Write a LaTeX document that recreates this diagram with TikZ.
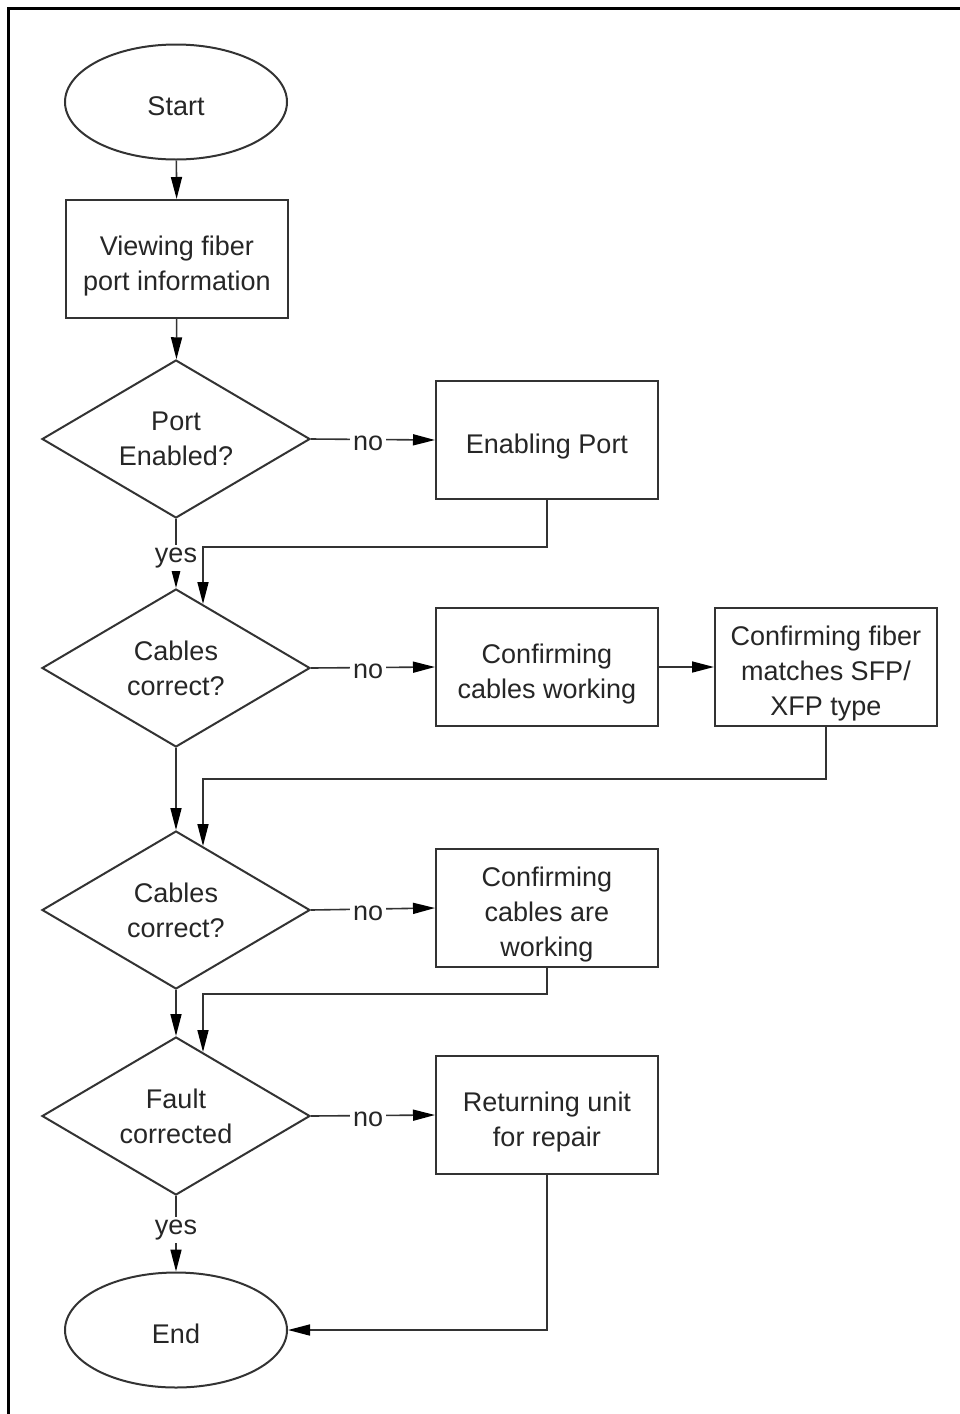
\documentclass[tikz,border=0pt]{standalone}
\usepackage{fontspec}
\setmainfont{Liberation Sans}
\usetikzlibrary{shapes.geometric,arrows.meta,calc}
\begin{document}
\begin{tikzpicture}[x=1pt,y=-1pt,
  every node/.style={font=\fontsize{27}{35}\selectfont, text=black!85},
  term/.style={ellipse, draw=black!80, line width=2pt, minimum width=222pt, minimum height=115pt, inner sep=0pt, execute at begin node={\rule{0pt}{27pt}}},
  proc/.style={rectangle, draw=black!80, line width=2pt, minimum width=222pt, minimum height=118pt, inner sep=0pt,
    label={[align=center, yshift=-7pt]center:#1}},
  dec/.style={diamond, aspect=1.7, draw=black!80, line width=2pt, minimum width=268pt, minimum height=158pt, align=center, inner sep=0pt},
  conn/.style={draw=black!80, line width=1.6pt, -{Triangle[length=22pt,width=11pt,color=black]}},
  lab/.style={fill=white, inner sep=3pt}
]
\useasboundingbox (0,0) rectangle (960,1414);
\fill[white] (0,0) rectangle (960,1414);
\draw[line width=3pt] (8.5,1420) -- (8.5,8) -- (965,8);

\node[term] (start) at (176,102) {Start};
\node[proc={Viewing fiber\\port information}] (view) at (177,259) {};
\node[dec] (d1) at (176,439) {Port\\Enabled?};
\node[proc={Enabling Port}] (en) at (547,440) {};
\node[dec] (d2) at (176,668) {Cables\\correct?};
\node[proc={Confirming\\cables working}] (cw) at (547,667) {};
\node[proc={Confirming fiber\\matches SFP/\\XFP type}] (fib) at (826,667) {};
\node[dec] (d3) at (176,910) {Cables\\correct?};
\node[proc={Confirming\\cables are\\working}] (cae) at (547,908) {};
\node[dec] (d4) at (176,1116) {Fault\\corrected};
\node[proc={Returning unit\\for repair}] (ret) at (547,1115) {};
\node[term] (end) at (176,1330) {End};

\coordinate (t2) at ($(d2.north)!0.4!(d2.north east)$);
\coordinate (t3) at ($(d3.north)!0.4!(d3.north east)$);
\coordinate (t4) at ($(d4.north)!0.4!(d4.north east)$);

\draw[conn] (start) -- (view);
\draw[conn] (view) -- (d1);
\draw[conn] (d1.east) -- node[lab, pos=0.46, yshift=-4pt] {no} (en.west);
\draw[conn] (d1.south) -- node[lab, pos=0.56] {yes} (d2.north);
\draw[conn] (en.south) -- ++(0,47) -| (t2);
\draw[conn] (d2.east) -- node[lab, pos=0.46, yshift=-4pt] {no} (cw.west);
\draw[conn] (cw) -- (fib);
\draw[conn] (fib.south) -- ++(0,52) -| (t3);
\draw[conn] (d2.south) -- (d3.north);
\draw[conn] (d3.east) -- node[lab, pos=0.46, yshift=-4pt] {no} (cae.west);
\draw[conn] (cae.south) -- ++(0,26) -| (t4);
\draw[conn] (d3.south) -- (d4.north);
\draw[conn] (d4.east) -- node[lab, pos=0.46, yshift=-4pt] {no} (ret.west);
\draw[conn] (d4.south) -- node[lab, pos=0.45] {yes} (end.north);
\draw[conn] (ret.south) |- (end.east);
\end{tikzpicture}
\end{document}
